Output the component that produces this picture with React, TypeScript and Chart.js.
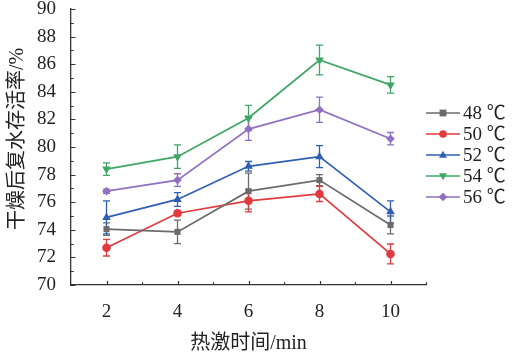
import React, { useEffect, useRef } from "react";
import { Chart, registerables } from "chart.js";
Chart.register(...registerables);

const times = [2, 4, 6, 8, 10];
const seriesLabels = ["48 ℃", "50 ℃", "52 ℃", "54 ℃", "56 ℃"];
const s48 = [74.05, 73.85, 76.8, 77.6, 74.35];
const e48 = [0.45, 0.85, 1.3, 0.4, 0.65];
const s50 = [72.7, 75.2, 76.1, 76.6, 72.25];
const e50 = [0.6, 0.15, 0.8, 0.55, 0.72];
const s52 = [74.9, 76.2, 78.6, 79.3, 75.3];
const e52 = [1.2, 0.5, 0.35, 0.8, 0.8];
const s54 = [78.4, 79.3, 82.1, 86.3, 84.5];
const e54 = [0.45, 0.85, 0.92, 1.08, 0.6];
const s56 = [76.8, 77.6, 81.3, 82.7, 80.6];
const e56 = [0.15, 0.46, 0.82, 0.92, 0.45];

const colors = ["#6b6b6b", "#e23a3f", "#2f5fb3", "#3ea766", "#9070c0"];
const markers = ["rect", "circle", "triangle", "triangle", "rectRot"];
const rotations = [0, 0, 0, 180, 0];
const values = [s48, s50, s52, s54, s56];
const errors = [e48, e50, e52, e54, e56];

const FONT = "'Liberation Serif', 'Noto Sans CJK SC', serif";
const TEXT = "#222";

function drawMarker(ctx: CanvasRenderingContext2D, style: string, rot: number, x: number, y: number, r: number) {
  ctx.save();
  ctx.translate(x, y);
  ctx.rotate((rot * Math.PI) / 180);
  ctx.beginPath();
  if (style === "rect") {
    ctx.rect(-r * 0.9, -r * 0.9, r * 1.8, r * 1.8);
  } else if (style === "circle") {
    ctx.arc(0, 0, r, 0, Math.PI * 2);
  } else if (style === "triangle") {
    ctx.moveTo(0, -r * 1.1);
    ctx.lineTo(r * 1.05, r * 0.75);
    ctx.lineTo(-r * 1.05, r * 0.75);
    ctx.closePath();
  } else {
    ctx.moveTo(0, -r * 1.15);
    ctx.lineTo(r * 1.15, 0);
    ctx.lineTo(0, r * 1.15);
    ctx.lineTo(-r * 1.15, 0);
    ctx.closePath();
  }
  ctx.fill();
  ctx.restore();
}

const extras = {
  id: "extras",
  beforeDatasetsDraw(chart: any) {
    const { ctx, scales } = chart;
    const x = scales.x, y = scales.y;
    ctx.save();
    ctx.lineWidth = 1.3;
    values.forEach((vals, i) => {
      ctx.strokeStyle = colors[i];
      vals.forEach((v, j) => {
        const px = x.getPixelForValue(times[j]);
        const top = y.getPixelForValue(v + errors[i][j]);
        const bot = y.getPixelForValue(v - errors[i][j]);
        ctx.beginPath();
        ctx.moveTo(px, top); ctx.lineTo(px, bot);
        ctx.moveTo(px - 3.5, top); ctx.lineTo(px + 3.5, top);
        ctx.moveTo(px - 3.5, bot); ctx.lineTo(px + 3.5, bot);
        ctx.stroke();
      });
    });
    ctx.restore();
  },
  afterDraw(chart: any) {
    const { ctx, scales, chartArea } = chart;
    const x = scales.x, y = scales.y;
    ctx.save();
    ctx.strokeStyle = "#333";
    ctx.lineWidth = 1.2;
    ctx.beginPath();
    for (let v = 70; v <= 90; v++) {
      const py = Math.round(y.getPixelForValue(v)) + 0.5;
      ctx.moveTo(chartArea.left, py);
      ctx.lineTo(chartArea.left + (v % 2 === 0 ? 4.5 : 2.7), py);
    }
    for (let v = 2; v <= 11; v++) {
      const px = Math.round(x.getPixelForValue(v)) + 0.5;
      ctx.moveTo(px, chartArea.bottom);
      ctx.lineTo(px, chartArea.bottom - (v % 2 === 0 ? 4 : 2.7));
    }
    ctx.stroke();

    ctx.fillStyle = TEXT;
    ctx.font = `20px ${FONT}`;
    ctx.textAlign = "center";
    ctx.textBaseline = "middle";
    ctx.fillText("热激时间/min", (chartArea.left + chartArea.right) / 2, 344);
    ctx.save();
    ctx.translate(18, 139);
    ctx.rotate(-Math.PI / 2);
    ctx.fillText("干燥后复水存活率/%", 0, 0);
    ctx.restore();

    ctx.font = `19px ${FONT}`;
    ctx.textAlign = "left";
    ctx.textBaseline = "middle";
    seriesLabels.forEach((lab, i) => {
      const ly = 113 + i * 21;
      ctx.strokeStyle = colors[i];
      ctx.lineWidth = 1.6;
      ctx.beginPath();
      ctx.moveTo(426, ly); ctx.lineTo(460, ly);
      ctx.stroke();
      ctx.fillStyle = colors[i];
      drawMarker(ctx, markers[i], rotations[i], 443, ly, 3.8);
      ctx.fillStyle = TEXT;
      ctx.fillText(lab, 463, ly + 1);
    });
    ctx.restore();
  },
};

export default function App() {
  const ref = useRef<HTMLCanvasElement | null>(null);
  useEffect(() => {
    document.body.style.margin = "0";
    const canvas = ref.current!;
    const chart = new Chart(canvas, {
      type: "line",
      data: {
        datasets: values.map((vals, i) => ({
          label: seriesLabels[i],
          data: vals.map((v, j) => ({ x: times[j], y: v })),
          borderColor: colors[i],
          backgroundColor: colors[i],
          borderWidth: 1.7,
          pointStyle: markers[i] as any,
          pointRotation: rotations[i],
          pointRadius: i === 2 || i === 3 ? 5 : 4.3,
          pointBorderWidth: 0,
          tension: 0,
        })),
      },
      options: {
        responsive: false,
        animation: false,
        layout: { padding: { top: 9, right: 86, left: 0, bottom: 0 } },
        plugins: { legend: { display: false }, tooltip: { enabled: false } },
        scales: {
          x: {
            type: "linear",
            min: 1,
            max: 11,
            grid: { display: false },
            border: { display: true, color: "#333", width: 1.3 },
            afterBuildTicks: (s: any) => {
              s.ticks = times.map((v) => ({ value: v }));
            },
            afterFit: (s: any) => {
              s.height = 74;
              s.paddingLeft = 0;
              s.paddingRight = 0;
            },
            ticks: {
              color: TEXT,
              padding: 8,
              font: { family: FONT, size: 19 },
              maxRotation: 0,
            },
          },
          y: {
            min: 70,
            max: 90,
            grid: { display: false },
            border: { display: true, color: "#333", width: 1.3 },
            afterFit: (s: any) => {
              s.width = 71;
              s.paddingTop = 0;
              s.paddingBottom = 0;
            },
            ticks: {
              stepSize: 2,
              color: TEXT,
              padding: 7,
              font: { family: FONT, size: 19 },
            },
          },
        },
      },
      plugins: [extras],
    });
    return () => chart.destroy();
  }, []);
  return <canvas ref={ref} width={512} height={359} style={{ display: "block" }} />;
}
